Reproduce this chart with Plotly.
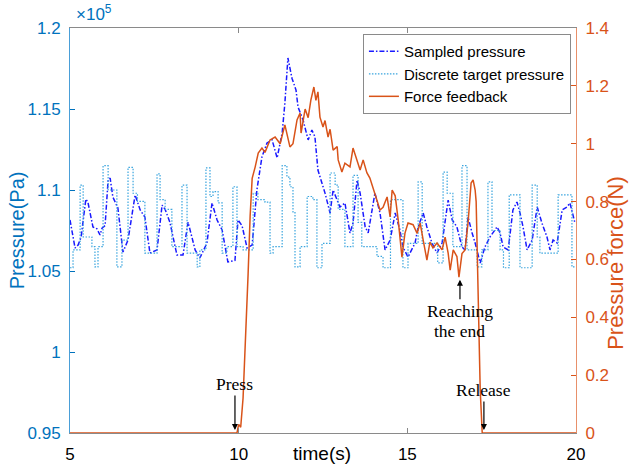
import plotly.graph_objects as go

# ---------------- data ----------------
# Sampled pressure (x1e5 Pa)
t_sampled = [5.00, 5.15, 5.24, 5.33, 5.47, 5.53, 5.68, 5.80, 5.89, 5.95, 6.04, 6.13, 6.19, 6.27, 6.42,
             6.57, 6.72, 6.93, 7.08, 7.22, 7.37, 7.58, 7.73, 7.82, 7.96, 8.17, 8.35, 8.50, 8.71, 8.85,
             9.06, 9.21, 9.36, 9.51, 9.68, 9.89, 9.98, 10.10, 10.25, 10.40, 10.54, 10.69, 10.84, 10.99,
             11.14, 11.29, 11.37, 11.46, 11.58, 11.70, 11.76, 11.91, 12.06, 12.17, 12.26, 12.35, 12.56,
             12.71, 12.80, 12.92, 13.00, 13.15, 13.30, 13.39, 13.51, 13.60, 13.75, 13.84, 13.95, 14.04,
             14.19, 14.34, 14.49, 14.64, 14.78, 14.87, 15.02, 15.23, 15.32, 15.47, 15.58, 15.73, 15.88,
             16.03, 16.21, 16.33, 16.47, 16.62, 16.71, 16.80, 16.92, 17.01, 17.16, 17.30, 17.45, 17.66,
             17.75, 17.84, 17.99, 18.13, 18.25, 18.34, 18.43, 18.55, 18.70, 18.85, 18.99, 19.14, 19.23,
             19.32, 19.44, 19.59, 19.73, 19.82, 19.97]
p_sampled = [1.0815, 1.0642, 1.0660, 1.0710, 1.0944, 1.0926, 1.0772, 1.0760, 1.0722, 1.0765, 1.0780,
             1.1062, 1.1074, 1.0957, 1.0889, 1.0617, 1.0691, 1.0969, 1.0877, 1.0833, 1.0611, 1.0630,
             1.0907, 1.0880, 1.0802, 1.0599, 1.0599, 1.0802, 1.0630, 1.0580, 1.0673, 1.0920, 1.0815,
             1.0753, 1.0556, 1.0565, 1.0815, 1.0780, 1.0642, 1.0660, 1.1000, 1.1204, 1.1290, 1.1310,
             1.1198, 1.1352, 1.1537, 1.1815, 1.1690, 1.1617, 1.1512, 1.1432, 1.1309, 1.1370, 1.1330,
             1.1123, 1.0981, 1.0858, 1.1000, 1.0938, 1.0895, 1.0920, 1.0735, 1.0796, 1.1062, 1.0981,
             1.0772, 1.0735, 1.0858, 1.0981, 1.0858, 1.0630, 1.0691, 1.0858, 1.0753, 1.0648, 1.0586,
             1.0673, 1.0772, 1.0858, 1.0772, 1.0673, 1.0611, 1.0673, 1.0938, 1.0815, 1.0772, 1.0648,
             1.0630, 1.0833, 1.0735, 1.0673, 1.0549, 1.0648, 1.0710, 1.0772, 1.0735, 1.0648, 1.0630,
             1.0877, 1.0926, 1.0858, 1.0772, 1.0630, 1.0691, 1.0895, 1.0796, 1.0710, 1.0630, 1.0691,
             1.0673, 1.0877, 1.0895, 1.0920, 1.0796]

# Discrete target pressure (x1e5 Pa), step-wise
t_target = [5.00, 5.09, 5.30, 5.39, 5.65, 5.74, 5.83, 5.98, 6.13, 6.39, 6.54, 6.72, 6.87, 7.00, 7.22,
            7.58, 7.67, 7.82, 8.02, 8.32, 8.47, 8.77, 8.85, 9.03, 9.15, 9.24, 9.39, 9.51, 9.65, 9.83,
            9.95, 10.13, 10.43, 10.57, 10.78, 10.93, 11.02, 11.29, 11.43, 11.52, 11.61, 11.67, 11.82,
            12.03, 12.20, 12.32, 12.47, 12.71, 12.86, 12.95, 13.15, 13.39, 13.54, 13.65, 14.10, 14.28,
            14.50, 14.87, 15.02, 15.32, 15.44, 15.90, 16.06, 16.18, 16.35, 16.62, 16.77, 17.07, 17.21,
            17.39, 17.51, 17.75, 17.85, 18.02, 18.34, 18.70, 18.85, 18.93, 19.47, 19.88, 20.00]
p_target = [1.0520, 1.0630, 1.1030, 1.0710, 1.0650, 1.0525, 1.0650, 1.1150, 1.1000, 1.0525, 1.0690,
            1.1140, 1.0980, 1.0930, 1.0610, 1.1100, 1.0940, 1.0880, 1.0650, 1.1030, 1.0610, 1.0525,
            1.0630, 1.1136, 1.0960, 1.0990, 1.0920, 1.0610, 1.0650, 1.1020, 1.0650, 1.0630, 1.0980,
            1.0940, 1.0925, 1.0610, 1.0650, 1.1150, 1.1080, 1.1020, 1.0860, 1.0525, 1.0650, 1.0960,
            1.0940, 1.0520, 1.0670, 1.1105, 1.1030, 1.0880, 1.0650, 1.1090, 1.0800, 1.0650, 1.0590,
            1.0520, 1.0940, 1.0520, 1.0670, 1.1050, 1.0670, 1.0550, 1.1110, 1.0980, 1.0650, 1.1150,
            1.0630, 1.0525, 1.0630, 1.1050, 1.0750, 1.0630, 1.0520, 1.0970, 1.0520, 1.1030, 1.0710,
            1.0610, 1.0970, 1.0525, 1.0525]

# Force feedback (N)
t_force = [5.00, 9.95, 10.00, 10.06, 10.13, 10.22, 10.28, 10.34, 10.40, 10.49, 10.58, 10.69, 10.78,
           10.93, 11.08, 11.23, 11.37, 11.52, 11.61, 11.73, 11.82, 11.85, 11.97, 12.06, 12.14, 12.23,
           12.29, 12.35, 12.41, 12.50, 12.56, 12.65, 12.71, 12.80, 12.92, 12.95, 13.06, 13.15, 13.30,
           13.39, 13.51, 13.60, 13.69, 13.80, 13.89, 13.98, 14.10, 14.19, 14.28, 14.40, 14.49, 14.55,
           14.64, 14.73, 14.84, 14.93, 15.02, 15.17, 15.29, 15.38, 15.47, 15.58, 15.67, 15.76, 15.88,
           16.03, 16.12, 16.21, 16.27, 16.36, 16.47, 16.53, 16.62, 16.71, 16.80, 16.89, 16.95, 17.01,
           17.04, 17.10, 17.16, 17.22, 20.00]
f_force = [0.000, 0.000, 0.030, 0.020, 0.120, 0.350, 0.550, 0.750, 0.880, 0.920, 0.968, 0.985, 0.970,
           1.013, 1.023, 1.000, 1.065, 0.989, 1.000, 1.082, 1.106, 1.037, 1.120, 1.090, 1.151, 1.196,
           1.150, 1.179, 1.092, 1.058, 1.080, 1.023, 1.050, 0.978, 0.990, 0.944, 0.902, 0.933, 0.920,
           0.985, 0.940, 0.909, 0.944, 0.900, 0.881, 0.850, 0.805, 0.771, 0.780, 0.816, 0.747, 0.840,
           0.820, 0.736, 0.608, 0.691, 0.726, 0.720, 0.690, 0.726, 0.667, 0.598, 0.660, 0.640, 0.657,
           0.633, 0.677, 0.622, 0.563, 0.633, 0.610, 0.539, 0.620, 0.633, 0.726, 0.864, 0.875, 0.840,
           0.800, 0.450, 0.150, 0.000, 0.000]

x_ticks = [5, 10, 15, 20]
y1_ticks = [0.95, 1.0, 1.05, 1.1, 1.15, 1.2]
y1_labels = ["0.95", "1", "1.05", "1.1", "1.15", "1.2"]
y2_ticks = [0, 0.2, 0.4, 0.6, 0.8, 1.0, 1.2, 1.4]
y2_labels = ["0", "0.2", "0.4", "0.6", "0.8", "1", "1.2", "1.4"]

BLUE_AX = "#0072BD"
ORANGE = "#D95319"
FONT = "Liberation Sans, Arial, sans-serif"
SERIF = "Liberation Serif, Times New Roman, serif"

fig = go.Figure()
fig.add_trace(go.Scatter(x=t_sampled, y=p_sampled, name="Sampled pressure", mode="lines",
                         line=dict(color="#1a1aff", width=1.5, dash="5px,2px,1.5px,2px")))
fig.add_trace(go.Scatter(x=t_target, y=p_target, name="Discrete target pressure", mode="lines",
                         line=dict(color="#3aa5de", width=1.2, dash="1.5px,1.5px", shape="hv")))
fig.add_trace(go.Scatter(x=t_force, y=f_force, name="Force feedback", mode="lines", yaxis="y2",
                         line=dict(color=ORANGE, width=1.5)))

fig.update_layout(
    width=630, height=468,
    margin=dict(l=70, r=54, t=28, b=35, autoexpand=False),
    paper_bgcolor="white", plot_bgcolor="white",
    font=dict(family=FONT, size=17, color="black"),
    showlegend=True,
    legend=dict(x=0.990, xanchor="right", y=0.985, yanchor="top",
                bgcolor="white", bordercolor="#8a8a8a", borderwidth=1,
                font=dict(family=FONT, size=15, color="black"),
                itemwidth=30, tracegroupgap=0),
    xaxis=dict(range=[5, 20], tickvals=x_ticks, ticks="inside", ticklen=5, tickcolor="#888",
               showline=True, linecolor="#8a8a8a", linewidth=1, mirror="ticks", showgrid=False,
               zeroline=False, tickfont=dict(size=17, color="black"), ticklabelstandoff=6,
               automargin=False),
    yaxis=dict(range=[0.95, 1.2], tickvals=y1_ticks, ticktext=y1_labels, ticks="inside", ticklen=5,
               tickcolor=BLUE_AX, showline=True, linecolor="#4a9fd8", linewidth=1, showgrid=False,
               zeroline=False, tickfont=dict(size=17, color=BLUE_AX), ticklabelstandoff=5,
               automargin=False),
    yaxis2=dict(range=[0, 1.4], tickvals=y2_ticks, ticktext=y2_labels, overlaying="y", side="right",
                ticks="inside", ticklen=5, tickcolor=ORANGE, showline=True, linecolor="#e8906a",
                linewidth=1, showgrid=False, zeroline=False,
                tickfont=dict(size=17, color=ORANGE), ticklabelstandoff=5, automargin=False),
)

annots = [
    dict(x=0, y=1, xref="paper", yref="paper", xanchor="left", yanchor="bottom", yshift=2, xshift=4,
         text="×10<sup>5</sup>", showarrow=False, font=dict(family=FONT, size=17, color=BLUE_AX)),
    dict(x=12.47, y=0, xref="x", yref="paper", yanchor="middle", yshift=-20, text="time(s)",
         showarrow=False, font=dict(family=FONT, size=19, color="black")),
    dict(x=-0.105, y=0.5, xref="paper", yref="paper", xanchor="center", yanchor="middle",
         text="Pressure(Pa)", textangle=-90, showarrow=False,
         font=dict(family=FONT, size=20, color=BLUE_AX)),
    dict(x=1.079, y=0.42, xref="paper", yref="paper", xanchor="center", yanchor="middle",
         text="Pressure force(N)", textangle=-90, showarrow=False,
         font=dict(family=FONT, size=22, color=ORANGE)),
    dict(x=9.89, y=0.01, xref="x", yref="y2", ax=0, ay=-46, text="Press", showarrow=True,
         arrowhead=2, arrowsize=1, arrowwidth=1.2, arrowcolor="black",
         font=dict(family=SERIF, size=17.5, color="black")),
    dict(x=17.27, y=0.01, xref="x", yref="y2", ax=0, ay=-40, text="Release", showarrow=True,
         arrowhead=2, arrowsize=1, arrowwidth=1.2, arrowcolor="black",
         font=dict(family=SERIF, size=17.5, color="black")),
    dict(x=16.56, y=0.53, xref="x", yref="y2", ax=0, ay=31, text="Reaching", showarrow=True,
         arrowhead=2, arrowsize=1, arrowwidth=1.2, arrowcolor="black",
         font=dict(family=SERIF, size=17.5, color="black")),
    dict(x=16.56, y=0.53, xref="x", yref="y2", yanchor="middle", yshift=-51, text="the end",
         showarrow=False, font=dict(family=SERIF, size=17.5, color="black")),
]
fig.update_layout(annotations=annots)

fig.write_html("out.html")
